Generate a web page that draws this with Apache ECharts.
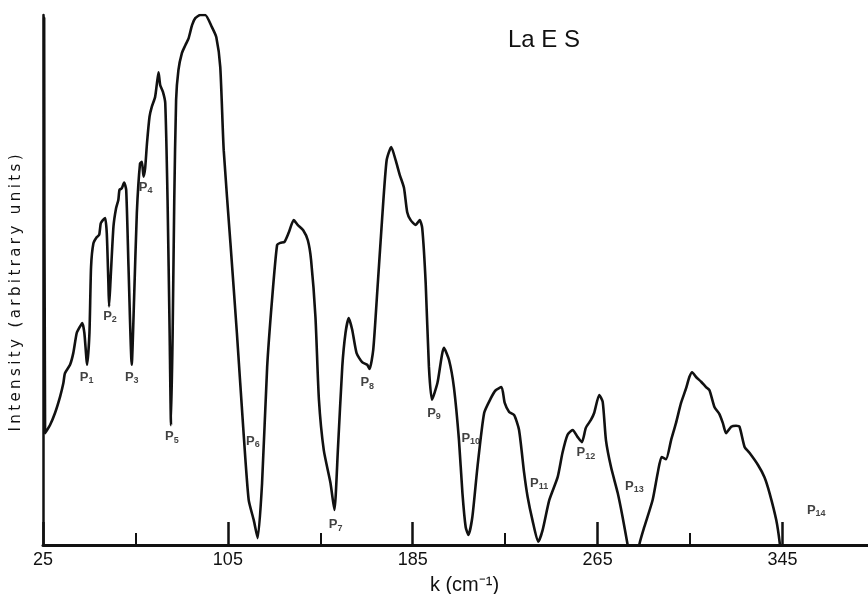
<!DOCTYPE html>
<html>
<head>
<meta charset="utf-8">
<script src="https://cdn.jsdelivr.net/npm/echarts@6/dist/echarts.min.js"></script>
<style>
html,body{margin:0;padding:0;background:#fff;}
#chart{width:868px;height:594px;}
</style>
</head>
<body>
<div id="chart"></div>
<script>
// Wavenumber k (cm^-1)
const kValues = [25.1,25.5,25.9,28.0,30.2,32.4,33.8,34.5,36.7,38.1,39.6,41.0,42.0,42.9,44.1,45.1,45.8,46.8,48.3,49.3,50.0,50.9,51.9,52.6,53.3,53.6,54.3,55.5,56.6,57.6,58.1,59.1,60.1,61.0,62.0,63.4,64.4,65.6,67.0,67.8,68.5,69.2,70.0,71.1,72.1,73.5,74.3,75.0,75.7,76.9,77.9,78.9,79.8,80.4,81.1,81.8,82.6,83.6,85.1,86.6,88.0,89.5,90.9,93.1,95.2,98.1,100.0,101.7,103.2,106.1,108.9,111.8,114.0,116.2,117.9,119.8,122.0,124.1,126.3,127.7,129.5,131.3,133.5,135.2,137.6,139.6,141.0,142.9,144.4,146.5,149.4,151.1,152.6,154.5,155.9,157.3,158.8,160.7,163.1,165.3,166.3,167.9,169.6,171.8,173.7,175.7,177.6,179.4,181.2,182.6,184.1,186.2,188.0,189.1,190.6,192.0,193.3,195.7,198.5,200.7,202.8,205.0,206.5,207.9,209.1,210.8,213.0,215.9,218.8,220.9,223.4,224.8,226.7,228.9,231.0,233.2,234.7,236.8,239.3,241.2,244.1,247.7,249.8,252.0,254.2,256.3,258.2,259.9,262.1,263.5,265.7,267.2,268.6,270.8,273.7,275.8,278.0,280.5,283.1,285.2,288.8,291.0,292.7,294.6,296.8,298.9,301.1,303.3,304.7,305.9,307.6,309.8,311.9,313.4,315.6,317.7,319.2,320.6,322.8,324.9,326.4,328.6,330.7,334.4,337.2,339.4,342.3,343.8,344.5];
// Intensity (arbitrary units)
const intensity = [99.5,99.5,21.1,22.6,24.9,28.0,30.5,32.4,34.0,36.2,40.0,41.2,41.9,40.0,34.0,40.0,52.5,56.9,58.1,58.5,60.7,61.3,61.7,58.8,49.4,45.0,50.6,60.1,63.5,65.1,67.0,67.3,68.4,67.0,52.5,34.0,46.2,62.6,72.0,72.3,69.5,71.1,75.8,80.8,82.7,84.5,87.1,89.2,86.8,85.5,83.4,65.1,40.0,22.6,40.0,65.1,84.0,89.6,92.8,94.3,95.6,98.1,99.4,100,100,97.7,95.8,90.2,74.5,57.0,40.0,21.1,8.5,4.7,1.3,11.7,33.6,46.2,56.6,57.0,57.2,58.9,61.3,60.4,59.4,57.5,53.8,43.0,27.4,17.9,11.7,6.6,17.9,33.6,40.0,42.8,40.6,36.2,34.5,34.0,33.2,36.8,47.5,61.9,72.6,75.1,72.6,69.8,67.4,62.8,61.3,60.4,61.3,59.8,49.4,33.6,27.4,30.6,37.2,34.9,29.8,19.8,9.8,3.4,1.9,5.3,14.7,24.9,27.7,29.2,29.8,26.8,25.1,24.5,21.7,13.6,9.1,4.7,0.6,2.8,8.5,12.8,17.4,20.8,21.7,20.4,19.4,22.1,23.6,24.9,28.3,27.0,19.8,14.7,9.8,5.3,0.0,-6,0.2,3.4,8.5,13.6,16.6,16.2,19.8,23.0,26.8,29.6,31.7,32.6,31.7,30.8,29.8,29.2,26.0,24.7,23.0,21.1,22.3,22.5,22.3,18.5,17.4,15.1,12.8,9.8,4.7,0.4,-3];

const majorTicks = [25, 105, 185, 265, 345];
const minorTicks = [65, 145, 225, 305];

// Peak labels: names and their anchor (k, intensity)
const peakNames = ['1','2','3','4','5','6','7','8','9','10','11','12','13','14'];
const peakK = [43.9, 54.0, 63.4, 69.4, 80.8, 115.8, 151.6, 165.3, 194.2, 210.1, 239.7, 259.9, 280.9, 359.6];
const peakV = [31.7, 43.2, 31.7, 67.5, 20.4, 19.6, 3.8, 30.6, 24.9, 20.2, 11.7, 17.4, 11.1, 6.6];

const yTitle = 'Intensity (arbitrary units)';

const curve = kValues.map((k, i) => [k, intensity[i]]);
const peaks = peakK.map((k, i) => ({ value: [k, peakV[i]], name: peakNames[i] }));
// letter-spaced title: each character drawn as its own rich fragment
const spaced = yTitle.split('').map(c => '{c|' + c + '}').join('');

const FONT = 'Liberation Sans';
const chart = echarts.init(document.getElementById('chart'), null, { renderer: 'canvas' });
chart.setOption({
  animation: false,
  backgroundColor: '#ffffff',
  title: {
    text: 'La E S',
    left: 503, top: 23,
    textStyle: { fontFamily: FONT, fontSize: 24, fontWeight: 'normal', color: '#111' }
  },
  grid: { left: 43, right: 0, top: 15, bottom: 49, outerBoundsMode: 'none', containLabel: false },
  xAxis: [{
    type: 'value', min: 25, max: 382,
    name: 'k (cm\u207B\u00B9)', nameLocation: 'middle', nameGap: 30,
    nameTextStyle: { fontFamily: FONT, fontSize: 20, color: '#111', padding: [0, 0, 0, 18] },
    axisLine: { show: true, lineStyle: { color: '#111', width: 3 } },
    axisTick: { show: true, inside: true, length: 23, customValues: majorTicks, lineStyle: { color: '#111', width: 2.5 } },
    axisLabel: { show: true, customValues: majorTicks, margin: 6, fontFamily: FONT, fontSize: 18, color: '#111' },
    splitLine: { show: false }
  }, {
    type: 'value', min: 25, max: 382, position: 'bottom',
    axisLine: { show: false },
    axisTick: { show: true, inside: true, length: 12, customValues: minorTicks, lineStyle: { color: '#111', width: 2 } },
    axisLabel: { show: false },
    splitLine: { show: false }
  }],
  yAxis: {
    type: 'value', min: 0, max: 100,
    axisLine: { show: true, lineStyle: { color: '#111', width: 2.5 } },
    axisTick: { show: false },
    axisLabel: { show: false },
    splitLine: { show: false }
  },
  graphic: [{
    type: 'text',
    x: 16, y: 293, rotation: Math.PI / 2,
    style: {
      text: spaced,
      align: 'center', verticalAlign: 'middle',
      rich: {
        c: { fontFamily: 'DejaVu Sans', fontSize: 15, fill: '#111', padding: [0, 1.7, 0, 1.7] }
      }
    }
  }],
  series: [{
    type: 'line',
    data: curve,
    showSymbol: false,
    smooth: 0.2,
    clip: true,
    lineStyle: { color: '#111', width: 2.6 },
    silent: true
  }, {
    type: 'scatter',
    data: peaks,
    symbolSize: 0,
    silent: true,
    label: {
      show: true,
      position: 'inside',
      formatter: p => '{p|P}{s|' + p.name + '}',
      rich: {
        p: { fontFamily: FONT, fontSize: 13, fontWeight: 'bold', color: '#111' },
        s: { fontFamily: FONT, fontSize: 9, fontWeight: 'bold', color: '#111', padding: [7, 0, 0, 0] }
      }
    }
  }]
});
</script>
</body>
</html>
